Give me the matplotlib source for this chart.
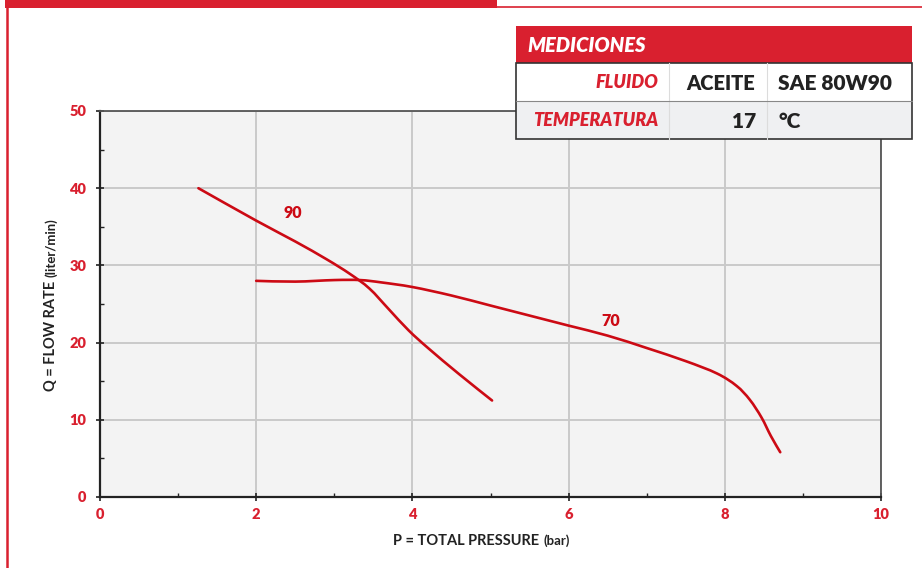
import matplotlib
matplotlib.use("Agg")
import matplotlib.pyplot as plt
from matplotlib.patches import Rectangle, PathPatch
from matplotlib.path import Path
from matplotlib.lines import Line2D
import numpy as np

# ---- data ----
p90 = [1.26, 2.0, 2.5, 2.9, 3.2, 3.45, 3.7, 3.95, 4.2, 4.6, 5.02]
q90 = [40.0, 35.8, 33.1, 30.8, 28.9, 27.0, 24.3, 21.6, 19.3, 15.9, 12.5]
p70 = [2.0, 2.5, 3.0, 3.33, 3.6, 4.0, 4.5, 5.0, 5.5, 6.0, 6.5, 7.0, 7.5, 7.9, 8.15, 8.32, 8.47, 8.59, 8.71]
q70 = [28.0, 27.9, 28.1, 28.1, 27.8, 27.2, 26.1, 24.8, 23.5, 22.2, 20.9, 19.3, 17.6, 16.0, 14.4, 12.6, 10.3, 7.9, 5.8]
curve_labels = ["90", "70"]
label_pos = [(2.47, 36.8), (6.54, 22.8)]
x_ticks = [0, 2, 4, 6, 8, 10]
y_ticks = [0, 10, 20, 30, 40, 50]
table_header = "MEDICIONES"
table_rows = [["FLUIDO", "ACEITE", "SAE 80W90"], ["TEMPERATURA", "17", "°C"]]

RED = "#d9202f"
CURVE = "#cc0a14"
DARK = "#222222"
FONT = "Lato"

W, H = 922, 568
fig = plt.figure(figsize=(W / 100, H / 100), dpi=100)
fig.patch.set_facecolor("white")

def fx(px):
    return px / W

def fy(py):
    return 1 - py / H

ax = fig.add_axes([fx(100), fy(497), fx(881) - fx(100), fy(111) - fy(497)])
ax.set_facecolor("#f3f3f3")
ax.set_xlim(0, 10)
ax.set_ylim(0, 50)
ax.set_xticks(x_ticks)
ax.set_yticks(y_ticks)
ax.set_xticks([1, 3, 5, 7, 9], minor=True)
ax.set_yticks([5, 15, 25, 35, 45], minor=True)
ax.grid(True, which="major", color="#c9c9c9", lw=1.4)
ax.set_axisbelow(True)
for s in ["left", "bottom"]:
    ax.spines[s].set_color("#222222")
    ax.spines[s].set_linewidth(1.6)
for s in ["top", "right"]:
    ax.spines[s].set_color("#555555")
    ax.spines[s].set_linewidth(1.3)
ax.tick_params(which="major", direction="inout", length=6, width=1.2, color="#222222")
ax.tick_params(which="minor", direction="in", length=3, width=1.0, color="#222222")
ax.tick_params(axis="x", which="major", pad=5)
ax.tick_params(axis="y", which="major", pad=7)
ax.set_xticklabels([str(v) for v in x_ticks], color=RED, fontsize=10.5, fontweight="heavy", family=FONT)
ax.set_yticklabels([str(v) for v in y_ticks], color=RED, fontsize=10.5, fontweight="heavy", family=FONT)


def smooth_path(xs, ys):
    """Catmull-Rom through the read points, drawn as cubic Bezier segments."""
    pts = np.column_stack([xs, ys]).astype(float)
    sx, sy = 78.1, 7.72
    P = pts * [sx, sy]
    n = len(P)
    verts = [tuple(pts[0])]
    codes = [Path.MOVETO]
    for i in range(n - 1):
        p0 = P[i - 1] if i > 0 else P[i]
        p1 = P[i]
        p2 = P[i + 1]
        p3 = P[i + 2] if i + 2 < n else P[i + 1]
        c1 = p1 + (p2 - p0) / 6.0
        c2 = p2 - (p3 - p1) / 6.0
        for c in (c1, c2, p2):
            verts.append((c[0] / sx, c[1] / sy))
            codes.append(Path.CURVE4)
    return Path(verts, codes)


for xs, ys in [(p90, q90), (p70, q70)]:
    ax.add_patch(PathPatch(smooth_path(xs, ys), facecolor="none", edgecolor=CURVE, lw=1.9,
                           capstyle="round", joinstyle="round", transform=ax.transData))
for lab, (lx, ly) in zip(curve_labels, label_pos):
    ax.text(lx, ly, lab, color=CURVE, fontsize=11.5, fontweight="heavy", family=FONT,
            ha="center", va="center")

# axis labels
t1 = fig.text(fx(466), fy(541), "P = TOTAL PRESSURE", fontsize=10.5, color=DARK,
              family=FONT, fontweight="bold", ha="center", va="center")
ax.annotate("(bar)", xy=(1, 0.5), xycoords=t1, xytext=(3, 0), textcoords="offset points",
            fontsize=9.5, color=DARK, family=FONT, fontweight="bold", va="center", ha="left",
            annotation_clip=False)
t2 = fig.text(fx(51), fy(336), "Q = FLOW RATE", fontsize=10.5, color=DARK, rotation=90,
              family=FONT, fontweight="bold", ha="center", va="center")
ax.annotate("(liter/min)", xy=(0.5, 1), xycoords=t2, xytext=(0, 3), textcoords="offset points",
            fontsize=9.5, color=DARK, family=FONT, fontweight="bold", va="bottom", ha="center",
            rotation=90, annotation_clip=False)

# frame decorations
fig.add_artist(Rectangle((fx(5), fy(8)), fx(497) - fx(5), fy(0) - fy(8), color=RED, lw=0))
fig.add_artist(Line2D([fx(497), fx(922)], [fy(7), fy(7)], color=RED, lw=1.2))
fig.add_artist(Line2D([fx(6.5), fx(6.5)], [fy(0), fy(568)], color=RED, lw=1.8))

# table
x0, x1 = 516, 912
fig.add_artist(Rectangle((fx(x0), fy(63)), fx(x1) - fx(x0), fy(26) - fy(63), color=RED, lw=0))
fig.add_artist(Rectangle((fx(x0), fy(101)), fx(x1) - fx(x0), fy(63) - fy(101),
                         facecolor="white", edgecolor="none"))
fig.add_artist(Rectangle((fx(x0), fy(139)), fx(x1) - fx(x0), fy(101) - fy(139),
                         facecolor="#eff0f2", edgecolor="none"))
for xv in [669, 767]:
    fig.add_artist(Line2D([fx(xv), fx(xv)], [fy(63), fy(139)], color="#dcdcdc", lw=0.8))
fig.add_artist(Line2D([fx(x0), fx(x1)], [fy(101), fy(101)], color="#888888", lw=0.8))
fig.add_artist(Rectangle((fx(x0), fy(139)), fx(x1) - fx(x0), fy(63) - fy(139),
                         facecolor="none", edgecolor="#333333", lw=1.2))
fig.text(fx(527), fy(46), table_header, color="white", fontsize=14.5, fontweight="heavy",
         style="italic", family=FONT, va="center", ha="left")
row_y = [83, 121]
for (a, b, c), yy in zip(table_rows, row_y):
    fig.text(fx(658), fy(yy), a, color=RED, fontsize=13, fontweight="heavy", style="italic",
             family=FONT, va="center", ha="right")
    if b == "17":
        fig.text(fx(756), fy(yy), b, color=DARK, fontsize=15, fontweight="heavy",
                 family=FONT, va="center", ha="right")
    else:
        fig.text(fx(686), fy(yy), b, color=DARK, fontsize=14.5, fontweight="heavy",
                 family=FONT, va="center", ha="left")
    fig.text(fx(778), fy(yy), c, color=DARK, fontsize=15, fontweight="heavy",
             family=FONT, va="center", ha="left")

fig.savefig("out.png", dpi=100)
